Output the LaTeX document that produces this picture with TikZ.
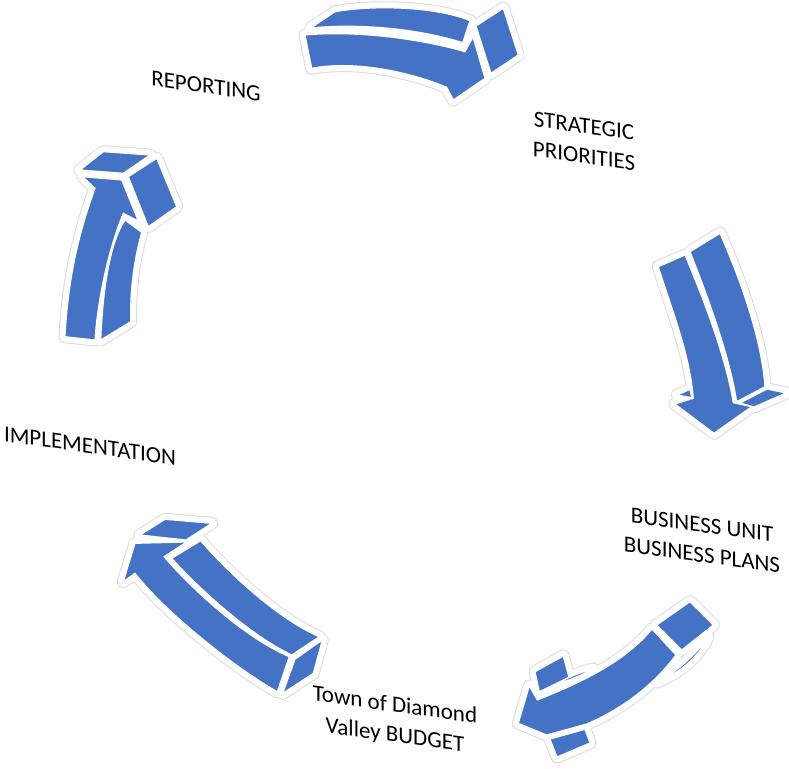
\documentclass[tikz,border=0pt]{standalone}
\usepackage{fontspec}
\setmainfont{Carlito}
\definecolor{ablue}{HTML}{4472C4}
\tikzset{
  glow/.style={draw=black!14, fill=black!14, line width=13pt, line join=round},
  halo/.style={draw=white, fill=white, line width=11pt, line join=round},
  face/.style={fill=ablue, draw=white, line width=1.2pt, line join=round},
  lbl/.style={font=\fontsize{23}{30}\selectfont, align=center, transform shape, yslant=-0.14, inner sep=0pt, text=black}
}
% top arrow (pointing right)
\newcommand\ArrTop[1]{%
 \path[#1] (310.7,28) -- (335,11.7) .. controls (380,4) and (440,8) .. (470,20.7) -- (462.7,42.7) .. controls (420,29) and (360,23) .. cycle;
 \path[#1] (305,35) .. controls (360,30) and (425,40) .. (465,51.7) -- (473,37) -- (485,78.3) -- (453.3,100) -- (446.7,87.3) .. controls (410,72) and (355,60) .. (311.7,68.3) -- cycle;
 \path[#1] (476,26) -- (503.3,8.3) -- (518.3,55) -- (491,73.3) -- cycle;
}
% right arrow (pointing down)
\newcommand\ArrRight[1]{%
 \path[#1] (658.3,266.7) .. controls (672,310) and (690,355) .. (693.3,398.3) -- (675,404) -- (714,433.3) -- (751.7,406.7) -- (733.3,402.7) .. controls (726,360) and (708,310) .. (685,255) -- cycle;
 \path[#1] (690,251.7) -- (720,233.3) .. controls (745,290) and (762,345) .. (765,386.7) -- (736.7,401.7) .. controls (730,360) and (713,310) .. cycle;
 \path[#1] (740,403) -- (767,389) -- (786,393) -- (754,407) -- cycle;
 \path[#1] (677.3,395) -- (690,389.3) -- (691.7,397.7) -- cycle;
}
% bottom-right arrow (pointing lower left)
\newcommand\ArrBR[1]{%
 \path[#1] (656.7,625) -- (690,601.7) -- (713.3,625) -- (681.7,650) -- cycle;
 \path[#1] (652,629) -- (676,655) .. controls (650,690) and (615,712) .. (586.7,724) -- (546.7,735) -- (518.3,723.3) -- (529.3,686) -- (537.3,700) .. controls (580,683) and (625,662) .. cycle;
 \path[#1] (535,671.7) -- (563.3,656) -- (569,677.3) -- (539.3,691.7) -- cycle;
 \path[#1] (550,739) -- (585,729.3) -- (590,743) -- (557,757) -- cycle;
 \path[#1] (557,684) .. controls (570,676) and (582,672) .. (593,669) .. controls (582,675) and (570,680) .. cycle;
 \path[#1] (657,682) .. controls (680,670) and (698,652) .. (708,637) .. controls (700,655) and (682,672) .. cycle;
}
% bottom-left arrow (pointing up left)
\newcommand\ArrBL[1]{%
 \path[#1] (140,535) -- (165,519.3) -- (211.7,523.3) -- (186,540) -- cycle;
 \path[#1] (135,543.3) -- (186.7,542) -- (164,556.7) .. controls (200,598) and (250,640) .. (289.3,656.7) -- (277.3,691.7) .. controls (235,668) and (165,612) .. (135,573.3) -- (123.3,581.7) -- cycle;
 \path[#1] (171.7,558.3) -- (200.7,540.7) .. controls (230,575) and (280,620) .. (319.3,636.7) -- (291.7,655) .. controls (254,637) and (206,596) .. cycle;
 \path[#1] (295,659.3) -- (322.3,640) -- (313.3,673.3) -- (282.7,693.3) -- cycle;
}
% left arrow (pointing up)
\newcommand\ArrL[1]{%
 \path[#1] (80,170) -- (103.3,151.7) -- (150,155) -- (123.3,173.3) -- cycle;
 \path[#1] (128.3,176.7) -- (156.7,158.3) -- (176.7,206.7) -- (148.3,226.7) -- cycle;
 \path[#1] (82.7,176.7) -- (121.7,180) -- (138.3,221) -- (123.3,213.3) .. controls (110,245) and (98,295) .. (95,340) -- (65,336.7) .. controls (68,280) and (78,235) .. (95,188.3) -- cycle;
 \path[#1] (125,220) -- (141.7,232.3) .. controls (134,260) and (130,290) .. (130.7,321.7) -- (100.7,340) .. controls (103.3,280) and (111.7,240) .. cycle;
}
\begin{document}
\begin{tikzpicture}[x=1pt, y=-1pt]
\useasboundingbox (0,0) rectangle (789,768);
\ArrTop{glow}\ArrRight{glow}\ArrBR{glow}\ArrBL{glow}\ArrL{glow}
\ArrTop{halo}\ArrRight{halo}\ArrBR{halo}\ArrBL{halo}\ArrL{halo}
\ArrTop{face}\ArrRight{face}\ArrBR{face}\ArrBL{face}\ArrL{face}
\node[lbl] (rep) at (206,86) {REPORTING};
\node[lbl] (str) at (584,141) {STRATEGIC\\PRIORITIES};
\node[lbl] (bus) at (702,540) {BUSINESS UNIT\\BUSINESS PLANS};
\node[lbl] (town) at (395,721) {Town of Diamond\\Valley BUDGET};
\node[lbl] (imp) at (90,446) {IMPLEMENTATION};
\end{tikzpicture}
\end{document}
